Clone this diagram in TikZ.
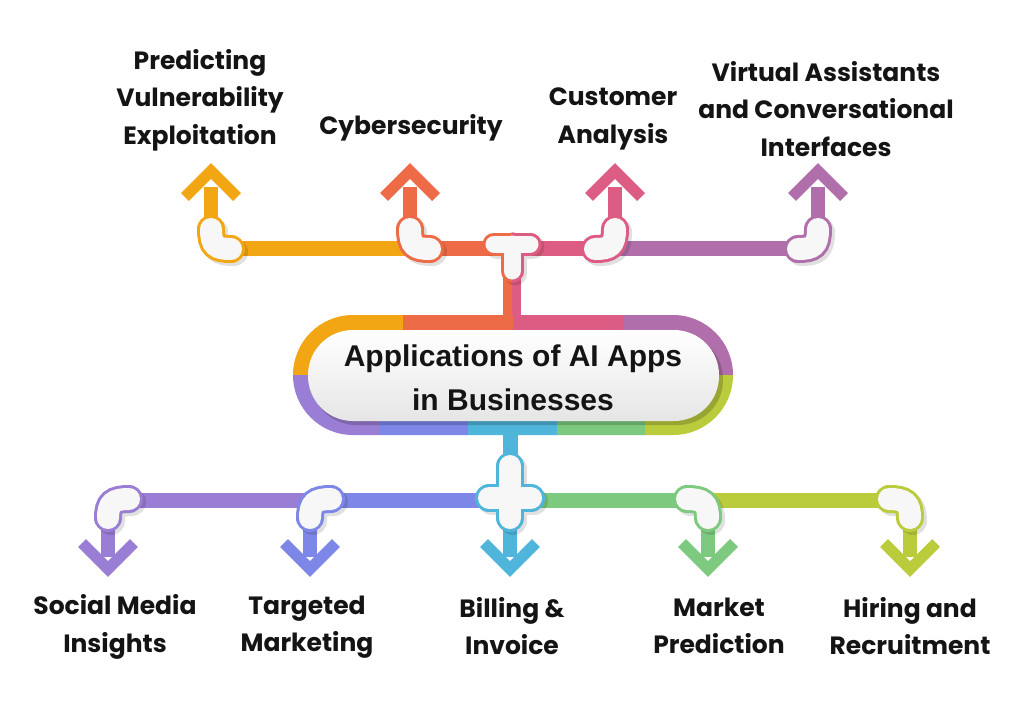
\documentclass[tikz,border=0pt]{standalone}
\usepackage{fontspec}
\usetikzlibrary{calc}
\newfontfamily\labelfont{Poppins}
\newfontfamily\titlefont{Liberation Sans}
\definecolor{ink}{HTML}{141414}
\definecolor{apporange}{HTML}{F2A614}
\definecolor{appred}{HTML}{EE6B47}
\definecolor{apppink}{HTML}{DD5C84}
\definecolor{appplum}{HTML}{B06EAA}
\definecolor{appviolet}{HTML}{9A7DD4}
\definecolor{appblue}{HTML}{7C87E8}
\definecolor{appcyan}{HTML}{4FB5DA}
\definecolor{appgreen}{HTML}{7DC97F}
\definecolor{applime}{HTML}{BACB3C}

\begin{document}
\begin{tikzpicture}[x=1pt,y=-1pt,
  bar/.style={line width=15pt},
  stem/.style={line width=14pt},
  chevron/.style={line width=11pt,line join=miter},
  knot/.style={line width=3pt,double=black!3,double distance=22pt,line cap=round},
  knotshadow/.style={line width=28pt,line cap=round,black,opacity=0.12},
  lbl/.style={font=\labelfont\bfseries\fontsize{25}{37.5}\selectfont,text=ink,align=center,inner sep=0pt},
  ttl/.style={font=\titlefont\bfseries\fontsize{30}{44}\selectfont,text=ink,align=center,inner sep=0pt}]
  \fill[white] (0,0) rectangle (1024,702);
  \useasboundingbox (0,0) rectangle (1024,702);

  % junction points
  \coordinate (tJ) at (512,244);
  \coordinate (boxTop) at (512,322);
  \coordinate (boxBot) at (510,432);
  \coordinate (xJ) at (510,498);
  \coordinate (pveS) at (211,229);   \coordinate (pveB) at (211,248);
  \coordinate (cybS) at (410,229);   \coordinate (cybB) at (410,248);
  \coordinate (cusS) at (615,229);   \coordinate (cusB) at (615,248);
  \coordinate (virS) at (818,229);   \coordinate (virB) at (818,248);
  \coordinate (smiS) at (108,518);   \coordinate (smiB) at (108,500);
  \coordinate (tgmS) at (310,518);   \coordinate (tgmB) at (310,500);
  \coordinate (bilS) at (510,518);   \coordinate (bilB) at (510,500);
  \coordinate (mktS) at (708,518);   \coordinate (mktB) at (708,500);
  \coordinate (hirS) at (910,518);   \coordinate (hirB) at (910,500);

  % top bars and stems
  \draw[bar,apporange] (pveB) -- (cybB);
  \draw[bar,appred] (cybB) -- (tJ |- cybB);
  \draw[bar,apppink] (tJ |- cybB) -- (cusB);
  \draw[bar,appplum] (cusB) -- (virB);
  \draw[line width=9pt,appred] ($(tJ)+(-4.5,16)$) -- ($(boxTop)+(-4.5,0)$);
  \draw[line width=9pt,apppink] ($(tJ)+(4.5,16)$) -- ($(boxTop)+(4.5,0)$);
  \draw[stem,apporange] (pveS) -- ++(0,-42);
  \draw[stem,appred] (cybS) -- ++(0,-42);
  \draw[stem,apppink] (cusS) -- ++(0,-42);
  \draw[stem,appplum] (virS) -- ++(0,-42);

  % bottom bars and stems
  \draw[bar,appviolet] (smiB) -- (tgmB);
  \draw[bar,appblue] (tgmB) -- (bilB);
  \draw[bar,appgreen] (bilB) -- (mktB);
  \draw[bar,applime] (mktB) -- (hirB);
  \draw[line width=15pt,appcyan] (boxBot) -- (xJ);
  \draw[stem,appviolet] (smiS) -- ++(0,39);
  \draw[stem,appblue] (tgmS) -- ++(0,39);
  \draw[stem,appcyan] (bilS) -- ++(0,39);
  \draw[stem,appgreen] (mktS) -- ++(0,39);
  \draw[stem,applime] (hirS) -- ++(0,39);

  % shadows of the knots
  \begin{scope}[shift={(3,3)}]
    \draw[knotshadow] (211,229) .. controls (211,246) and (216,249) .. (231,249);
    \draw[knotshadow] (410,229) .. controls (410,246) and (415,249) .. (430,249);
    \draw[knotshadow] (615,229) .. controls (615,246) and (610,249) .. (595,249);
    \draw[knotshadow] (818,229) .. controls (818,246) and (813,249) .. (798,249);
    \draw[knotshadow] (129,499) .. controls (113,499) and (108,503) .. (108,518);
    \draw[knotshadow] (331,499) .. controls (315,499) and (310,503) .. (310,518);
    \draw[knotshadow] (687,499) .. controls (703,499) and (708,503) .. (708,518);
    \draw[knotshadow] (889,499) .. controls (905,499) and (910,503) .. (910,518);
    \draw[knotshadow] (489,498) -- (531,498) (510,466) -- (510,518);
    \draw[knotshadow,line width=23pt] (494,244) -- (530,244) (512,244) -- (512,271);
  \end{scope}

  % knots
  \draw[knot,apporange] (pveS) .. controls (211,246) and (216,249) .. (231,249);
  \draw[knot,appred] (cybS) .. controls (410,246) and (415,249) .. (430,249);
  \draw[knot,apppink] (cusS) .. controls (615,246) and (610,249) .. (595,249);
  \draw[knot,appplum] (virS) .. controls (818,246) and (813,249) .. (798,249);
  \draw[knot,appviolet] (129,499) .. controls (113,499) and (108,503) .. (smiS);
  \draw[knot,appblue] (331,499) .. controls (315,499) and (310,503) .. (tgmS);
  \draw[knot,appgreen] (687,499) .. controls (703,499) and (708,503) .. (mktS);
  \draw[knot,applime] (889,499) .. controls (905,499) and (910,503) .. (hirS);
  \draw[knot,appcyan] (489,498) -- (531,498) (510,466) -- (bilS);
  \draw[knot,appred,double distance=17pt] (494,244) -- (530,244) (tJ) -- (512,271);
  \begin{scope}
    \clip (512,220) rectangle (560,290);
    \draw[knot,apppink,double distance=17pt] (494,244) -- (530,244) (tJ) -- (512,271);
  \end{scope}

  % chevrons
  \draw[chevron,apporange] (185,197) -- (211,171) -- (237,197);
  \draw[chevron,appred] (384,197) -- (410,171) -- (436,197);
  \draw[chevron,apppink] (589,197) -- (615,171) -- (641,197);
  \draw[chevron,appplum] (792,197) -- (818,171) -- (844,197);
  \draw[chevron,appviolet] (82,543) -- (108,569) -- (134,543);
  \draw[chevron,appblue] (284,543) -- (310,569) -- (336,543);
  \draw[chevron,appcyan] (484,543) -- (510,569) -- (536,543);
  \draw[chevron,appgreen] (682,543) -- (708,569) -- (734,543);
  \draw[chevron,applime] (884,543) -- (910,569) -- (936,543);

  % central box
  \begin{scope}
    \clip[rounded corners=60pt] (293,315) rectangle (733,435);
    \fill[apporange] (290,310) rectangle (403,375);
    \fill[appred] (403,310) rectangle (513,375);
    \fill[apppink] (513,310) rectangle (623,375);
    \fill[appplum] (623,310) rectangle (740,375);
    \fill[appviolet] (290,375) rectangle (380,440);
    \fill[appblue] (380,375) rectangle (468,440);
    \fill[appcyan] (468,375) rectangle (557,440);
    \fill[appgreen] (557,375) rectangle (645,440);
    \fill[applime] (645,375) rectangle (740,440);
  \end{scope}
  \fill[black,opacity=0.18,rounded corners=45pt] (311,334) rectangle (723,425);
  \shade[top color=white,bottom color=black!10,rounded corners=45pt] (308,330) rectangle (719,421);
  \node[ttl] (title) at (513,378) {Applications of AI Apps\\in Businesses};

  % labels
  \node[lbl] (pve) at (200,100) {Predicting\\Vulnerability\\Exploitation};
  \node[lbl] (cyb) at (411,128) {Cybersecurity};
  \node[lbl] (cus) at (613,119) {Customer\\Analysis};
  \node[lbl] (vir) at (826,109) {Virtual Assistants\\and Conversational\\Interfaces};
  \node[lbl] (smi) at (115,627) {Social Media\\Insights};
  \node[lbl] (tgm) at (307,627) {Targeted\\Marketing};
  \node[lbl] (bil) at (512,626) {Billing \&\\Invoice};
  \node[lbl] (mkt) at (719,626) {Market\\Prediction};
  \node[lbl] (hir) at (910,626) {Hiring and\\Recruitment};
\end{tikzpicture}
\end{document}
